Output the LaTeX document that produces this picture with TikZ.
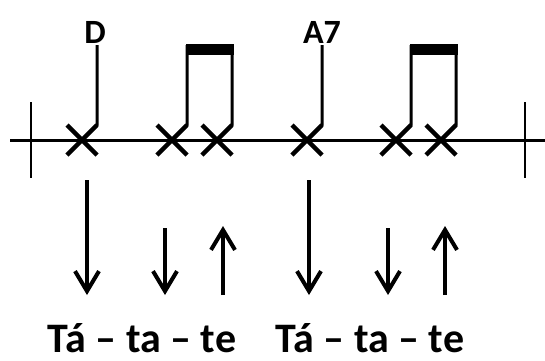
\documentclass[tikz,border=0pt]{standalone}
\usepackage{fontspec}
\setmainfont{Carlito}
\usetikzlibrary{arrows.meta}
\begin{document}
\begin{tikzpicture}[x=1pt,y=-1pt,
  staff/.style={line width=3pt},
  barline/.style={line width=2pt},
  xmark/.style={line width=4.5pt},
  stem/.style={line width=3pt},
  beam/.style={fill=black},
  strum/.style={line width=4pt,-{Straight Barb[length=20pt,width=24pt]}},
  chord/.style={font=\bfseries\fontsize{34}{38}\selectfont,inner sep=0pt},
  syll/.style={font=\bfseries\fontsize{42}{46}\selectfont,inner sep=0pt,anchor=base,text depth=0pt}]
\useasboundingbox (0,0) rectangle (545,360);
% staff line
\coordinate (sL) at (10,140);
\coordinate (sR) at (545,140);
\draw[staff] (sL) -- (sR);
% bar lines
\coordinate (b1t) at (31,102); \coordinate (b1b) at (31,178);
\coordinate (b2t) at (525,102); \coordinate (b2b) at (525,178);
\draw[barline] (b1t) -- (b1b);
\draw[barline] (b2t) -- (b2b);
% crosses
\foreach \n/\x in {c1/82,c2/172,c3/217,c4/307,c5/396,c6/441}{
  \coordinate (\n) at (\x,140);
  \draw[xmark] ([shift={(-15,-15)}]\n) -- ([shift={(15,15)}]\n);
  \draw[xmark] ([shift={(-15,15)}]\n) -- ([shift={(15,-15)}]\n);
}
% stems
\foreach \n in {c1,c2,c3,c4,c5,c6}{
  \draw[stem] ([shift={(14,-14)}]\n) -- ([shift={(15,-15)}]\n) -- ([shift={(15,-95)}]\n);
}
% beams
\fill[beam] ([shift={(13.5,-96.5)}]c2) rectangle ([shift={(16.5,-85)}]c3);
\fill[beam] ([shift={(13.5,-96.5)}]c5) rectangle ([shift={(16.5,-85)}]c6);
% chord labels
\node[chord] (D) at (95,32.5) {D};
\node[chord] (A) at (322,32.5) {A7};
% strum arrows
\coordinate (a1s) at (87,180); \coordinate (a1e) at (87,295);
\coordinate (a2s) at (165,228); \coordinate (a2e) at (165,295);
\coordinate (a3s) at (223,295); \coordinate (a3e) at (223,226);
\coordinate (a4s) at (309,180); \coordinate (a4e) at (309,295);
\coordinate (a5s) at (388,228); \coordinate (a5e) at (388,295);
\coordinate (a6s) at (445,295); \coordinate (a6e) at (445,226);
\foreach \i in {1,...,6}{\draw[strum] (a\i s) -- (a\i e);}
% syllables
\node[syll] (t1) at (142,352) {Tá – ta – te};
\node[syll] (t2) at (370,352) {Tá – ta – te};
\end{tikzpicture}
\end{document}
